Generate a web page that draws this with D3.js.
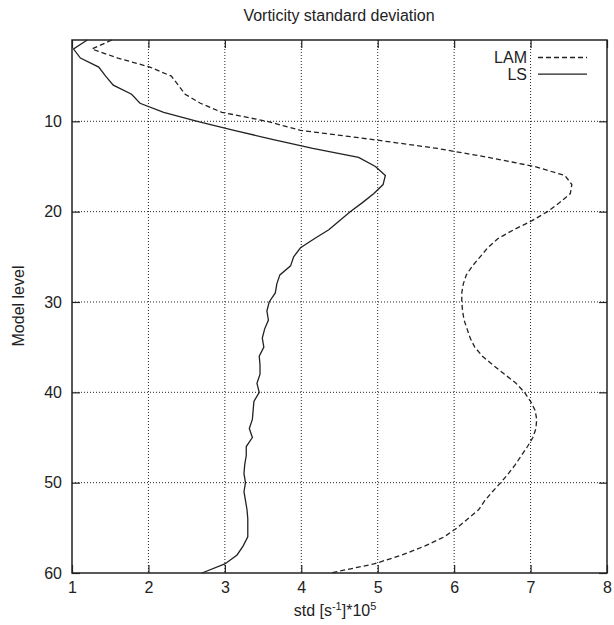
<!DOCTYPE html>
<html>
<head>
<meta charset="utf-8">
<script src="https://cdn.jsdelivr.net/npm/d3@7"></script>
<style>
body { margin: 0; background: #fff; }
text { font-family: "Liberation Sans", Arial, sans-serif; fill: #222; }
</style>
</head>
<body>
<svg></svg>
<script>
// model levels 1..60
const levels = d3.range(1, 61)

// LAM std per level (dashed)
const lam = [1.52, 1.26, 1.60, 2.02, 2.30, 2.39, 2.48, 2.68, 2.96, 3.55,
  3.99, 4.92, 5.78, 6.45, 7.05, 7.45, 7.54, 7.52, 7.38, 7.22,
  7.02, 6.78, 6.57, 6.44, 6.34, 6.24, 6.16, 6.12, 6.10, 6.10,
  6.11, 6.13, 6.17, 6.21, 6.27, 6.37, 6.51, 6.66, 6.81, 6.92,
  7.00, 7.06, 7.08, 7.07, 7.03, 6.96, 6.88, 6.80, 6.71, 6.61,
  6.50, 6.40, 6.32, 6.18, 6.04, 5.87, 5.62, 5.32, 4.95, 4.38]

// LS std per level (solid)
const ls = [1.20, 1.02, 1.11, 1.35, 1.44, 1.54, 1.78, 1.89, 2.20, 2.64,
  3.12, 3.62, 4.15, 4.75, 4.97, 5.10, 5.07, 4.95, 4.80, 4.64,
  4.50, 4.36, 4.17, 3.99, 3.90, 3.86, 3.72, 3.68, 3.66, 3.58,
  3.55, 3.57, 3.52, 3.49, 3.51, 3.45, 3.46, 3.46, 3.42, 3.45,
  3.38, 3.37, 3.36, 3.32, 3.36, 3.28, 3.28, 3.26, 3.25, 3.27,
  3.25, 3.27, 3.29, 3.30, 3.30, 3.30, 3.24, 3.16, 3.00, 2.70]

const xTicks = [1, 2, 3, 4, 5, 6, 7, 8]
const yTicks = [10, 20, 30, 40, 50, 60]

const svgWidth = 614
const svgHeight = 625
const plotLeft = 72, plotRight = 607, plotTop = 40, plotBottom = 573

const svg = d3.select('svg')
  .attr('width', svgWidth)
  .attr('height', svgHeight)

const x = d3.scaleLinear().domain([1, 8]).range([plotLeft, plotRight])
const y = d3.scaleLinear().domain([1, 60]).range([plotTop, plotBottom])

// grid
const grid = svg.append('g')
  .attr('stroke', '#222')
  .attr('stroke-width', 1)
  .attr('stroke-dasharray', '1,2')
grid.selectAll('.gx')
  .data(xTicks.slice(1, -1))
  .enter().append('line')
  .attr('x1', d => x(d)).attr('x2', d => x(d))
  .attr('y1', plotTop).attr('y2', plotBottom)
grid.selectAll('.gy')
  .data(yTicks.slice(0, -1))
  .enter().append('line')
  .attr('x1', plotLeft).attr('x2', plotRight)
  .attr('y1', d => y(d)).attr('y2', d => y(d))

// axes, ticks pointing inward
const fixAxis = g => {
  g.select('.domain').remove()
  g.selectAll('.tick line').attr('stroke', '#222').attr('stroke-width', 1.2)
  g.selectAll('.tick text').style('font-size', '16px').attr('fill', '#222')
}

svg.append('g')
  .attr('transform', 'translate(0,' + plotBottom + ')')
  .call(d3.axisBottom(x).tickValues(xTicks).tickFormat(d3.format('d')).tickSizeInner(-8).tickPadding(14.5))
  .call(fixAxis)
  .selectAll('.tick text').attr('dy', '0.35em')

svg.append('g')
  .attr('transform', 'translate(0,' + plotTop + ')')
  .call(d3.axisTop(x).tickValues(xTicks).tickSizeInner(-8).tickFormat(''))
  .call(fixAxis)

svg.append('g')
  .attr('transform', 'translate(' + plotLeft + ',0)')
  .call(d3.axisLeft(y).tickValues(yTicks).tickFormat(d3.format('d')).tickSizeInner(-8).tickPadding(10))
  .call(fixAxis)

svg.append('g')
  .attr('transform', 'translate(' + plotRight + ',0)')
  .call(d3.axisRight(y).tickValues(yTicks).tickSizeInner(-8).tickFormat(''))
  .call(fixAxis)

// frame
svg.append('rect')
  .attr('x', plotLeft).attr('y', plotTop)
  .attr('width', plotRight - plotLeft).attr('height', plotBottom - plotTop)
  .attr('fill', 'none')
  .attr('stroke', '#222')
  .attr('stroke-width', 1.5)

// curves
const line = d3.line()
  .x(d => x(d[1]))
  .y(d => y(d[0]))

svg.append('path')
  .datum(levels.map((l, i) => [l, lam[i]]))
  .attr('d', line)
  .attr('fill', 'none')
  .attr('stroke', '#222')
  .attr('stroke-width', 1.3)
  .attr('stroke-dasharray', '5,3')

svg.append('path')
  .datum(levels.map((l, i) => [l, ls[i]]))
  .attr('d', line)
  .attr('fill', 'none')
  .attr('stroke', '#222')
  .attr('stroke-width', 1.3)

// legend
const legend = [{name: 'LAM', dash: '5,3'}, {name: 'LS', dash: null}]
const lg = svg.selectAll('.legend')
  .data(legend)
  .enter().append('g')
  .attr('transform', (d, i) => 'translate(0,' + (57.5 + i * 16.7) + ')')
lg.append('text')
  .attr('x', 527)
  .attr('dy', '0.35em')
  .attr('text-anchor', 'end')
  .style('font-size', '16px')
  .text(d => d.name)
lg.append('line')
  .attr('x1', 538).attr('x2', 587)
  .attr('stroke', '#222')
  .attr('stroke-width', 1.3)
  .attr('stroke-dasharray', d => d.dash)

// title and axis labels
svg.append('text')
  .attr('x', 339).attr('y', 21)
  .attr('text-anchor', 'middle')
  .style('font-size', '16px')
  .text('Vorticity standard deviation')

svg.append('text')
  .attr('transform', 'translate(24,306) rotate(-90)')
  .attr('text-anchor', 'middle')
  .style('font-size', '16px')
  .text('Model level')

const xl = svg.append('text')
  .attr('x', 335).attr('y', 616)
  .attr('text-anchor', 'middle')
  .style('font-size', '16px')
xl.append('tspan').text('std [s')
xl.append('tspan').attr('dy', -6).style('font-size', '11px').text('-1')
xl.append('tspan').attr('dy', 6).text(']*10')
xl.append('tspan').attr('dy', -6).style('font-size', '11px').text('5')
</script>
</body>
</html>
